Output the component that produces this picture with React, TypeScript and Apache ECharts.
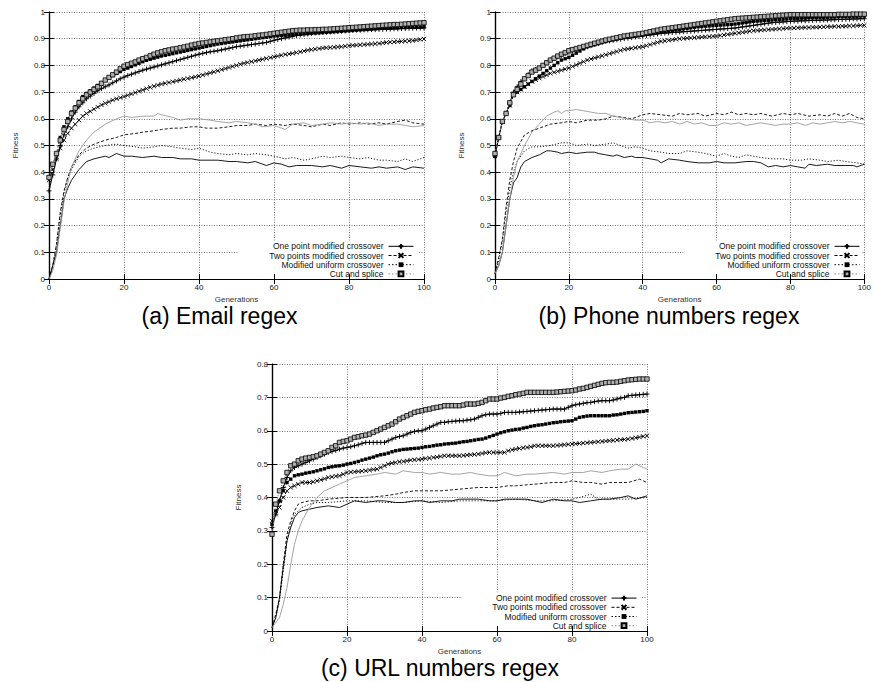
import React, { useEffect, useRef } from 'react';
import * as echarts from 'echarts';

// ---------- data ----------
const METHODS = ['One point modified crossover', 'Two points modified crossover', 'Modified uniform crossover', 'Cut and splice'];
const CAPTIONS = ['(a) Email regex', '(b) Phone numbers regex', '(c) URL numbers regex'];
const X_TICKS = { min: 0, max: 100, interval: 20 };
const Y_MAX = [1, 1, 0.8];
const Y_INTERVAL = 0.1;
const X_NAME = 'Generations';
const Y_NAME = 'Fitness';

// best fitness per generation (0..100)
const A_OP_BEST = [0.33,0.39,0.45,0.50,0.54,0.57,0.60,0.625,0.645,0.66,
0.675,0.685,0.695,0.705,0.713,0.72,0.727,0.735,0.742,0.75,
0.756,0.762,0.767,0.772,0.777,0.782,0.786,0.79,0.794,0.798,
0.802,0.806,0.81,0.814,0.818,0.822,0.826,0.83,0.834,0.838,
0.842,0.845,0.848,0.851,0.853,0.855,0.858,0.861,0.864,0.867,
0.87,0.872,0.874,0.876,0.878,0.88,0.882,0.884,0.886,0.89,
0.894,0.897,0.90,0.903,0.906,0.909,0.912,0.914,0.916,0.918,
0.92,0.921,0.922,0.923,0.924,0.925,0.926,0.927,0.928,0.929,
0.93,0.931,0.932,0.932,0.933,0.933,0.934,0.934,0.935,0.935,
0.936,0.936,0.937,0.937,0.938,0.938,0.939,0.939,0.94,0.94,
0.94];
const A_TP_BEST = [0.37,0.41,0.45,0.49,0.52,0.545,0.565,0.58,0.595,0.61,
0.62,0.628,0.636,0.644,0.652,0.658,0.664,0.67,0.675,0.679,
0.683,0.688,0.693,0.698,0.703,0.708,0.713,0.718,0.722,0.726,
0.73,0.733,0.736,0.739,0.742,0.745,0.748,0.751,0.754,0.757,
0.76,0.764,0.768,0.772,0.776,0.78,0.784,0.788,0.792,0.796,
0.80,0.804,0.808,0.811,0.814,0.817,0.82,0.823,0.826,0.829,
0.832,0.835,0.838,0.841,0.843,0.845,0.848,0.851,0.854,0.857,
0.859,0.861,0.863,0.865,0.866,0.867,0.868,0.869,0.87,0.872,
0.874,0.875,0.876,0.877,0.878,0.879,0.88,0.881,0.882,0.884,
0.886,0.887,0.888,0.889,0.89,0.891,0.892,0.893,0.895,0.897,
0.899];
const A_MU_BEST = [0.38,0.43,0.47,0.53,0.57,0.60,0.625,0.645,0.665,0.683,
0.695,0.705,0.715,0.725,0.735,0.745,0.755,0.762,0.77,0.777,
0.785,0.79,0.796,0.802,0.808,0.814,0.819,0.823,0.827,0.831,
0.835,0.838,0.841,0.844,0.847,0.85,0.853,0.856,0.859,0.862,
0.865,0.868,0.871,0.874,0.877,0.88,0.882,0.884,0.886,0.888,
0.89,0.892,0.894,0.896,0.898,0.90,0.902,0.904,0.906,0.908,
0.91,0.911,0.912,0.913,0.914,0.915,0.916,0.917,0.918,0.919,
0.92,0.921,0.922,0.923,0.924,0.925,0.926,0.927,0.928,0.929,
0.93,0.931,0.932,0.933,0.934,0.935,0.936,0.937,0.938,0.939,
0.94,0.94,0.941,0.941,0.942,0.942,0.943,0.943,0.944,0.944,
0.945];
const A_CS_BEST = [0.38,0.43,0.47,0.52,0.56,0.59,0.62,0.64,0.66,0.675,
0.69,0.70,0.71,0.72,0.733,0.745,0.755,0.765,0.775,0.787,
0.797,0.803,0.808,0.813,0.82,0.825,0.83,0.836,0.842,0.847,
0.851,0.855,0.858,0.861,0.863,0.866,0.869,0.872,0.876,0.879,
0.882,0.884,0.886,0.888,0.89,0.892,0.894,0.896,0.898,0.90,
0.903,0.905,0.907,0.908,0.909,0.911,0.913,0.914,0.916,0.918,
0.92,0.922,0.924,0.926,0.928,0.93,0.931,0.932,0.932,0.933,
0.933,0.934,0.934,0.935,0.935,0.936,0.937,0.938,0.939,0.94,
0.941,0.942,0.943,0.944,0.945,0.946,0.947,0.948,0.949,0.95,
0.951,0.952,0.953,0.953,0.954,0.955,0.956,0.957,0.958,0.959,
0.96];

const B_OP_BEST = [0.46,0.53,0.59,0.62,0.66,0.70,0.72,0.74,0.75,0.765,
0.78,0.785,0.79,0.80,0.81,0.82,0.826,0.832,0.838,0.844,
0.85,0.854,0.858,0.862,0.866,0.87,0.874,0.878,0.882,0.886,
0.89,0.892,0.894,0.896,0.898,0.90,0.902,0.904,0.906,0.908,
0.91,0.912,0.914,0.916,0.918,0.92,0.921,0.922,0.923,0.924,
0.925,0.926,0.927,0.928,0.929,0.93,0.931,0.932,0.933,0.934,
0.935,0.936,0.937,0.938,0.939,0.94,0.942,0.944,0.946,0.948,
0.95,0.952,0.954,0.956,0.958,0.96,0.961,0.962,0.963,0.964,
0.965,0.966,0.966,0.967,0.967,0.968,0.968,0.969,0.969,0.97,
0.97,0.971,0.971,0.972,0.972,0.973,0.973,0.974,0.974,0.975,
0.975];
const B_TP_BEST = [0.46,0.53,0.59,0.62,0.65,0.69,0.70,0.71,0.72,0.73,
0.74,0.746,0.752,0.758,0.764,0.77,0.774,0.778,0.782,0.786,
0.79,0.796,0.802,0.808,0.814,0.82,0.824,0.828,0.832,0.836,
0.84,0.844,0.848,0.852,0.856,0.86,0.862,0.864,0.866,0.868,
0.87,0.874,0.878,0.882,0.886,0.89,0.892,0.894,0.896,0.898,
0.90,0.901,0.902,0.903,0.904,0.905,0.906,0.907,0.908,0.909,
0.91,0.912,0.914,0.916,0.918,0.92,0.922,0.924,0.926,0.928,
0.93,0.931,0.932,0.933,0.934,0.935,0.936,0.937,0.938,0.939,
0.94,0.94,0.941,0.941,0.942,0.942,0.943,0.943,0.944,0.944,
0.945,0.945,0.946,0.946,0.947,0.947,0.948,0.948,0.949,0.95,
0.95];
const B_MU_BEST = [0.46,0.53,0.59,0.62,0.65,0.69,0.70,0.71,0.72,0.73,
0.74,0.75,0.76,0.77,0.78,0.79,0.80,0.81,0.82,0.825,
0.83,0.838,0.846,0.854,0.862,0.87,0.874,0.878,0.882,0.886,
0.89,0.893,0.896,0.899,0.902,0.905,0.907,0.909,0.911,0.913,
0.915,0.917,0.919,0.921,0.923,0.925,0.927,0.929,0.931,0.933,
0.935,0.937,0.939,0.941,0.943,0.945,0.946,0.947,0.948,0.949,
0.95,0.951,0.952,0.953,0.954,0.955,0.957,0.959,0.961,0.963,
0.965,0.966,0.967,0.968,0.969,0.97,0.971,0.972,0.973,0.974,
0.975,0.976,0.976,0.977,0.977,0.978,0.978,0.979,0.979,0.98,
0.98,0.981,0.981,0.982,0.982,0.983,0.983,0.984,0.984,0.985,
0.985];
const B_CS_BEST = [0.47,0.53,0.59,0.62,0.66,0.69,0.71,0.73,0.75,0.762,
0.775,0.782,0.79,0.80,0.81,0.82,0.827,0.835,0.842,0.848,
0.855,0.859,0.863,0.867,0.871,0.875,0.879,0.883,0.887,0.891,
0.895,0.898,0.901,0.904,0.907,0.91,0.912,0.914,0.916,0.918,
0.92,0.923,0.926,0.929,0.932,0.935,0.937,0.939,0.941,0.943,
0.945,0.947,0.949,0.951,0.953,0.955,0.957,0.959,0.961,0.963,
0.965,0.967,0.969,0.971,0.973,0.975,0.976,0.977,0.978,0.979,
0.98,0.981,0.982,0.983,0.984,0.985,0.986,0.987,0.988,0.989,
0.99,0.99,0.99,0.99,0.99,0.99,0.99,0.99,0.99,0.99,
0.99,0.99,0.99,0.991,0.991,0.991,0.991,0.992,0.992,0.992,
0.992];

const C_OP_BEST = [0.31,0.35,0.39,0.43,0.46,0.48,0.49,0.495,0.50,0.505,
0.51,0.515,0.52,0.525,0.53,0.535,0.538,0.541,0.545,0.548,
0.55,0.552,0.555,0.558,0.562,0.565,0.565,0.565,0.565,0.565,
0.565,0.57,0.575,0.58,0.583,0.585,0.59,0.595,0.598,0.60,
0.60,0.605,0.61,0.615,0.62,0.625,0.625,0.627,0.628,0.629,
0.63,0.63,0.632,0.633,0.635,0.64,0.645,0.648,0.65,0.65,
0.65,0.652,0.655,0.655,0.655,0.655,0.656,0.657,0.658,0.659,
0.66,0.661,0.662,0.663,0.664,0.665,0.665,0.665,0.665,0.67,
0.675,0.678,0.68,0.682,0.684,0.685,0.687,0.689,0.69,0.69,
0.69,0.692,0.695,0.698,0.70,0.705,0.706,0.707,0.708,0.709,
0.71];
const C_TP_BEST = [0.33,0.35,0.37,0.40,0.42,0.43,0.435,0.44,0.445,0.445,
0.445,0.447,0.45,0.453,0.456,0.46,0.462,0.464,0.465,0.47,
0.475,0.476,0.477,0.478,0.479,0.48,0.482,0.484,0.485,0.49,
0.495,0.50,0.503,0.505,0.507,0.508,0.51,0.512,0.513,0.514,
0.515,0.517,0.518,0.52,0.521,0.523,0.525,0.525,0.525,0.525,
0.525,0.526,0.527,0.528,0.529,0.53,0.532,0.534,0.535,0.535,
0.535,0.535,0.535,0.54,0.543,0.545,0.547,0.549,0.55,0.552,
0.555,0.555,0.555,0.555,0.555,0.555,0.556,0.557,0.558,0.559,
0.56,0.561,0.562,0.563,0.564,0.565,0.566,0.567,0.568,0.569,
0.57,0.571,0.572,0.573,0.574,0.575,0.577,0.579,0.581,0.583,
0.585];
const C_MU_BEST = [0.32,0.36,0.39,0.42,0.445,0.455,0.465,0.468,0.47,0.473,
0.475,0.477,0.48,0.483,0.486,0.49,0.492,0.494,0.495,0.497,
0.50,0.502,0.505,0.508,0.512,0.515,0.518,0.521,0.525,0.528,
0.53,0.533,0.537,0.54,0.542,0.544,0.545,0.546,0.547,0.548,
0.55,0.552,0.553,0.555,0.557,0.558,0.56,0.561,0.562,0.563,
0.565,0.567,0.568,0.57,0.572,0.574,0.575,0.578,0.582,0.586,
0.59,0.594,0.597,0.60,0.602,0.604,0.605,0.608,0.61,0.613,
0.615,0.617,0.618,0.62,0.622,0.624,0.625,0.627,0.628,0.629,
0.63,0.635,0.64,0.642,0.644,0.645,0.645,0.645,0.645,0.645,
0.645,0.647,0.648,0.65,0.652,0.654,0.655,0.656,0.657,0.658,
0.66];
const C_CS_BEST = [0.29,0.38,0.42,0.45,0.475,0.495,0.50,0.51,0.515,0.518,
0.52,0.522,0.525,0.53,0.535,0.54,0.55,0.555,0.565,0.568,
0.57,0.575,0.58,0.582,0.585,0.587,0.59,0.595,0.60,0.605,
0.61,0.615,0.62,0.627,0.635,0.64,0.645,0.65,0.655,0.658,
0.66,0.663,0.665,0.668,0.67,0.672,0.675,0.675,0.675,0.675,
0.675,0.677,0.68,0.68,0.68,0.682,0.685,0.69,0.695,0.695,
0.695,0.698,0.70,0.703,0.705,0.708,0.71,0.712,0.715,0.715,
0.715,0.715,0.715,0.715,0.715,0.715,0.716,0.717,0.718,0.719,
0.72,0.722,0.725,0.727,0.73,0.733,0.736,0.739,0.742,0.744,
0.745,0.745,0.746,0.748,0.75,0.752,0.753,0.754,0.755,0.755,
0.755];

// average fitness: [generation, value]
const A_OP_AVG = [[0,0],[2,0.1],[3,0.2],[4,0.3],[5,0.34],[6,0.37],[8,0.41],[10,0.44],[12,0.45],[15,0.46],[16,0.455],[18,0.47],[20,0.46],[22,0.46],[25,0.455],[28,0.46],[30,0.455],[33,0.455],[35,0.45],[38,0.45],[40,0.445],[45,0.445],[48,0.44],[50,0.44],[53,0.435],[55,0.44],[58,0.425],[60,0.435],[62,0.43],[64,0.42],[66,0.425],[70,0.425],[73,0.42],[75,0.425],[78,0.415],[80,0.425],[83,0.42],[86,0.415],[88,0.42],[90,0.415],[93,0.42],[95,0.41],[97,0.42],[100,0.415]];
const A_TP_AVG = [[0,0],[1,0.05],[2,0.13],[3,0.25],[4,0.33],[5,0.38],[6,0.42],[8,0.465],[10,0.49],[12,0.505],[15,0.52],[18,0.53],[20,0.54],[23,0.545],[25,0.55],[28,0.555],[30,0.56],[33,0.565],[35,0.565],[38,0.57],[40,0.57],[42,0.565],[45,0.565],[48,0.57],[50,0.575],[53,0.575],[55,0.58],[58,0.575],[60,0.58],[63,0.575],[65,0.58],[68,0.575],[70,0.57],[73,0.58],[75,0.575],[78,0.585],[80,0.58],[83,0.585],[85,0.58],[88,0.585],[90,0.58],[93,0.59],[95,0.595],[97,0.585],[100,0.58]];
const A_MU_AVG = [[0,0],[1,0.05],[2,0.13],[3,0.24],[4,0.32],[5,0.38],[6,0.41],[8,0.46],[10,0.48],[12,0.49],[15,0.50],[18,0.505],[20,0.50],[23,0.495],[25,0.49],[28,0.495],[30,0.50],[33,0.495],[35,0.49],[38,0.485],[40,0.49],[43,0.475],[45,0.47],[48,0.465],[50,0.47],[53,0.465],[55,0.47],[58,0.465],[60,0.46],[63,0.45],[65,0.455],[68,0.445],[70,0.45],[73,0.46],[75,0.455],[78,0.46],[80,0.455],[83,0.45],[85,0.455],[88,0.445],[90,0.445],[93,0.44],[95,0.45],[97,0.44],[100,0.455]];
const A_CS_AVG = [[0,0],[1,0.03],[2,0.09],[3,0.19],[4,0.29],[5,0.36],[6,0.42],[8,0.48],[10,0.52],[12,0.55],[15,0.58],[18,0.60],[20,0.61],[22,0.605],[25,0.61],[28,0.61],[29,0.62],[30,0.615],[33,0.605],[35,0.595],[37,0.60],[40,0.60],[43,0.595],[45,0.59],[48,0.585],[50,0.59],[53,0.585],[55,0.58],[57,0.57],[60,0.575],[62,0.565],[63,0.56],[65,0.58],[68,0.585],[70,0.575],[73,0.58],[75,0.585],[78,0.58],[80,0.585],[83,0.58],[85,0.585],[88,0.575],[90,0.58],[93,0.58],[95,0.575],[97,0.57],[100,0.575]];

const B_OP_AVG = [[0,0.02],[1,0.05],[2,0.1],[3,0.2],[4,0.3],[5,0.36],[6,0.38],[7,0.42],[8,0.44],[10,0.455],[12,0.465],[14,0.48],[15,0.48],[17,0.475],[18,0.47],[20,0.475],[22,0.47],[25,0.475],[27,0.475],[28,0.47],[30,0.465],[32,0.46],[33,0.465],[35,0.455],[37,0.46],[38,0.455],[40,0.455],[42,0.45],[44,0.445],[45,0.435],[47,0.45],[50,0.445],[52,0.44],[55,0.435],[58,0.435],[60,0.44],[62,0.435],[65,0.435],[68,0.44],[70,0.44],[72,0.435],[74,0.42],[76,0.425],[78,0.42],[80,0.425],[82,0.42],[84,0.415],[85,0.43],[87,0.425],[90,0.43],[92,0.425],[95,0.425],[97,0.425],[98,0.42],[100,0.43]];
const B_TP_AVG = [[0,0.02],[1,0.08],[2,0.15],[3,0.27],[4,0.37],[5,0.44],[6,0.49],[8,0.54],[10,0.555],[12,0.565],[15,0.58],[18,0.585],[20,0.59],[22,0.585],[25,0.595],[28,0.595],[30,0.60],[32,0.61],[35,0.605],[37,0.60],[40,0.615],[42,0.62],[45,0.615],[48,0.61],[50,0.62],[52,0.615],[55,0.62],[57,0.61],[60,0.62],[62,0.615],[64,0.625],[66,0.615],[68,0.62],[70,0.615],[72,0.62],[75,0.61],[78,0.62],[80,0.615],[82,0.62],[85,0.61],[88,0.615],[90,0.61],[92,0.62],[94,0.61],[96,0.62],[98,0.605],[100,0.60]];
const B_MU_AVG = [[0,0.02],[1,0.07],[2,0.14],[3,0.25],[4,0.34],[5,0.40],[6,0.44],[8,0.48],[10,0.495],[12,0.495],[15,0.50],[18,0.51],[20,0.51],[22,0.50],[25,0.505],[27,0.50],[30,0.505],[32,0.51],[34,0.50],[36,0.49],[38,0.495],[40,0.49],[42,0.48],[45,0.475],[47,0.47],[50,0.47],[52,0.48],[55,0.475],[57,0.47],[60,0.46],[62,0.47],[64,0.46],[66,0.455],[68,0.465],[70,0.46],[72,0.455],[75,0.45],[78,0.45],[80,0.445],[83,0.445],[85,0.45],[88,0.445],[90,0.44],[93,0.445],[95,0.44],[98,0.435],[100,0.43]];
const B_CS_AVG = [[0,0.02],[1,0.05],[2,0.1],[3,0.2],[4,0.3],[5,0.38],[6,0.44],[8,0.5],[10,0.55],[12,0.58],[14,0.61],[16,0.625],[17,0.63],[18,0.62],[19,0.63],[20,0.63],[22,0.635],[24,0.63],[26,0.625],[28,0.62],[30,0.62],[32,0.61],[34,0.605],[36,0.60],[38,0.595],[40,0.595],[42,0.585],[44,0.59],[46,0.585],[48,0.59],[50,0.58],[52,0.59],[54,0.58],[56,0.585],[58,0.575],[60,0.575],[62,0.585],[64,0.58],[66,0.585],[68,0.575],[70,0.58],[72,0.585],[74,0.58],[76,0.575],[78,0.58],[80,0.58],[82,0.585],[84,0.575],[86,0.585],[88,0.58],[90,0.585],[92,0.59],[94,0.585],[96,0.59],[98,0.585],[100,0.58]];

const C_OP_AVG = [[0,0.01],[1,0.04],[2,0.1],[3,0.19],[4,0.27],[5,0.31],[6,0.34],[7,0.355],[8,0.36],[10,0.365],[12,0.37],[15,0.375],[18,0.37],[20,0.38],[22,0.39],[25,0.385],[28,0.39],[30,0.39],[33,0.385],[35,0.385],[38,0.39],[40,0.39],[42,0.385],[45,0.39],[48,0.39],[50,0.395],[52,0.395],[55,0.395],[58,0.39],[60,0.39],[62,0.395],[65,0.395],[68,0.395],[70,0.39],[72,0.385],[75,0.395],[78,0.39],[80,0.39],[82,0.385],[85,0.39],[88,0.395],[90,0.395],[93,0.40],[95,0.405],[97,0.395],[100,0.405]];
const C_TP_AVG = [[0,0.01],[1,0.05],[2,0.1],[3,0.2],[4,0.29],[5,0.33],[6,0.36],[7,0.38],[8,0.385],[10,0.39],[12,0.39],[15,0.395],[20,0.40],[25,0.40],[30,0.405],[33,0.41],[35,0.415],[38,0.42],[40,0.42],[45,0.42],[50,0.425],[55,0.43],[58,0.43],[60,0.43],[63,0.435],[65,0.435],[70,0.44],[75,0.445],[78,0.445],[80,0.45],[83,0.445],[85,0.445],[88,0.44],[90,0.445],[95,0.445],[98,0.455],[100,0.445]];
const C_MU_AVG = [[0,0.01],[1,0.04],[2,0.09],[3,0.18],[4,0.27],[5,0.32],[6,0.35],[8,0.37],[10,0.38],[12,0.385],[15,0.385],[20,0.39],[25,0.39],[30,0.385],[35,0.385],[40,0.39],[45,0.385],[50,0.39],[55,0.39],[60,0.39],[65,0.395],[70,0.39],[75,0.39],[80,0.395],[82,0.40],[85,0.41],[87,0.395],[90,0.395],[95,0.395],[100,0.40]];
const C_CS_AVG = [[0,0.01],[2,0.04],[3,0.08],[4,0.13],[5,0.2],[6,0.26],[7,0.30],[8,0.33],[10,0.37],[12,0.40],[14,0.42],[16,0.43],[18,0.44],[20,0.45],[22,0.46],[25,0.465],[28,0.47],[30,0.475],[33,0.47],[35,0.48],[38,0.475],[40,0.475],[42,0.47],[45,0.475],[48,0.47],[50,0.47],[53,0.475],[55,0.47],[58,0.465],[60,0.465],[62,0.475],[65,0.465],[68,0.47],[70,0.47],[75,0.475],[78,0.47],[80,0.475],[83,0.475],[85,0.48],[88,0.475],[90,0.48],[93,0.485],[95,0.485],[97,0.50],[99,0.49],[100,0.485]];

const BEST = [
  [A_OP_BEST, A_TP_BEST, A_MU_BEST, A_CS_BEST],
  [B_OP_BEST, B_TP_BEST, B_MU_BEST, B_CS_BEST],
  [C_OP_BEST, C_TP_BEST, C_MU_BEST, C_CS_BEST],
];
const AVG = [
  [A_OP_AVG, A_TP_AVG, A_MU_AVG, A_CS_AVG],
  [B_OP_AVG, B_TP_AVG, B_MU_AVG, B_CS_AVG],
  [C_OP_AVG, C_TP_AVG, C_MU_AVG, C_CS_AVG],
];

// ---------- layout & style ----------
const W = 874;
const H = 682;
const FONT = '"Liberation Sans", Arial, Helvetica, sans-serif';
const PANELS = [
  { left: 49, top: 12, width: 375, height: 267, capX: 219.5, capY: 316, legRight: 460, legTop: 241.8 },
  { left: 495, top: 12, width: 373, height: 267, capX: 669, capY: 316, legRight: 14, legTop: 241.8 },
  { left: 272, top: 364, width: 375, height: 267, capX: 440, capY: 668, legRight: 237, legTop: 593.6 },
];

const BEST_STYLE = [
  { symbol: 'path://M0,5L10,5M5,0L5,10', size: 5, fill: '#000', border: '#000', bw: 0.9, line: '#000', type: 'solid' as any },
  { symbol: 'path://M0,0L10,10M10,0L0,10', size: 4.2, fill: '#000', border: '#000', bw: 0.9, line: '#000', type: [3, 2] as any },
  { symbol: 'rect', size: 3.4, fill: '#000', border: '#000', bw: 0, line: '#000', type: [1.5, 2] as any },
  { symbol: 'rect', size: 4.4, fill: '#b0b0b0', border: '#000', bw: 0.8, line: '#8a8a8a', type: [1.5, 2] as any },
];
const AVG_STYLE = [
  { color: '#000', type: 'solid' as any, width: 0.9 },
  { color: '#000', type: [3, 2] as any, width: 0.9 },
  { color: '#000', type: [1.2, 1.8] as any, width: 0.9 },
  { color: '#9a9a9a', type: 'solid' as any, width: 0.9 },
];

function buildOption() {
  const grid: any[] = [];
  const xAxis: any[] = [];
  const yAxis: any[] = [];
  const series: any[] = [];
  const legend: any[] = [];
  const graphic: any[] = [];

  PANELS.forEach((p, i) => {
    grid.push({ left: p.left, top: p.top, width: p.width, height: p.height, containLabel: false });
    const axisLine = { show: true, lineStyle: { color: '#000', width: 1.2 } };
    const tick = { show: true, inside: true, length: 5, lineStyle: { color: '#000', width: 1 } };
    const split = { show: true, lineStyle: { color: '#555', type: [1, 1.5], width: 0.8 } };
    const label = { fontSize: 8, fontFamily: FONT, color: '#222', margin: 4 };
    xAxis.push({
      type: 'value', gridIndex: i, position: 'bottom', ...X_TICKS,
      axisLine, axisTick: tick, splitLine: split, axisLabel: label,
      name: X_NAME, nameLocation: 'middle', nameGap: 16,
      nameTextStyle: { fontSize: 8, fontFamily: FONT, color: '#333' },
    });
    xAxis.push({
      type: 'value', gridIndex: i, position: 'top', ...X_TICKS,
      axisLine, axisTick: tick, splitLine: { show: false }, axisLabel: { show: false },
    });
    yAxis.push({
      type: 'value', gridIndex: i, position: 'left', min: 0, max: Y_MAX[i], interval: Y_INTERVAL,
      axisLine, axisTick: tick, splitLine: split, axisLabel: label,
      name: Y_NAME, nameLocation: 'middle', nameGap: 30, nameRotate: 90,
      nameTextStyle: { fontSize: 8, fontFamily: FONT, color: '#333' },
    });
    yAxis.push({
      type: 'value', gridIndex: i, position: 'right', min: 0, max: Y_MAX[i], interval: Y_INTERVAL,
      axisLine, axisTick: tick, splitLine: { show: false }, axisLabel: { show: false },
    });

    AVG[i].forEach((arr, k) => {
      const s = AVG_STYLE[k];
      series.push({
        type: 'line', name: 'avg ' + METHODS[k] + ' ' + i, xAxisIndex: 2 * i, yAxisIndex: 2 * i,
        data: arr, showSymbol: false, symbol: 'none', z: 2,
        lineStyle: { color: s.color, type: s.type, width: s.width },
      });
    });
    BEST[i].forEach((arr, k) => {
      const s = BEST_STYLE[k];
      series.push({
        type: 'line', name: METHODS[k], xAxisIndex: 2 * i, yAxisIndex: 2 * i,
        data: arr.map((v, g) => [g, v]), symbol: s.symbol, symbolSize: s.size, showSymbol: true, z: 3 + (k === 3 ? 1 : 0),
        itemStyle: { color: s.fill, borderColor: s.border, borderWidth: s.bw },
        lineStyle: { color: s.line, type: s.type, width: 1 },
      });
    });

    legend.push({
      data: METHODS, orient: 'vertical', align: 'right', right: p.legRight, top: p.legTop,
      itemWidth: 25, itemHeight: 6, itemGap: 0.2, padding: 0, selectedMode: false,
      lineStyle: { width: 1 },
      textStyle: { fontSize: 8.5, fontFamily: FONT, color: '#111', lineHeight: 8 },
    });

    // opaque key box hiding the grid lines
    const bx = p.left + p.width * 0.505;
    graphic.push({
      type: 'rect', z: 1, silent: true,
      shape: { x: bx, y: p.legTop - 1, width: p.left + p.width - 6 - bx, height: p.top + p.height - 6 - (p.legTop - 1) },
      style: { fill: '#fff' },
    });
    graphic.push({
      type: 'text', x: p.capX, y: p.capY, z: 5,
      style: { text: CAPTIONS[i], fill: '#000', font: '23px ' + FONT, textAlign: 'center', textVerticalAlign: 'middle' },
    });
  });

  return { animation: false, backgroundColor: '#fff', grid, xAxis, yAxis, series, legend, graphic };
}

export default function App() {
  const ref = useRef<HTMLDivElement>(null);
  useEffect(() => {
    const chart = echarts.init(ref.current!, undefined, { renderer: 'svg' });
    chart.setOption(buildOption() as any);
    return () => chart.dispose();
  }, []);
  return <div ref={ref} style={{ position: 'absolute', left: 0, top: 0, width: W, height: H }} />;
}
